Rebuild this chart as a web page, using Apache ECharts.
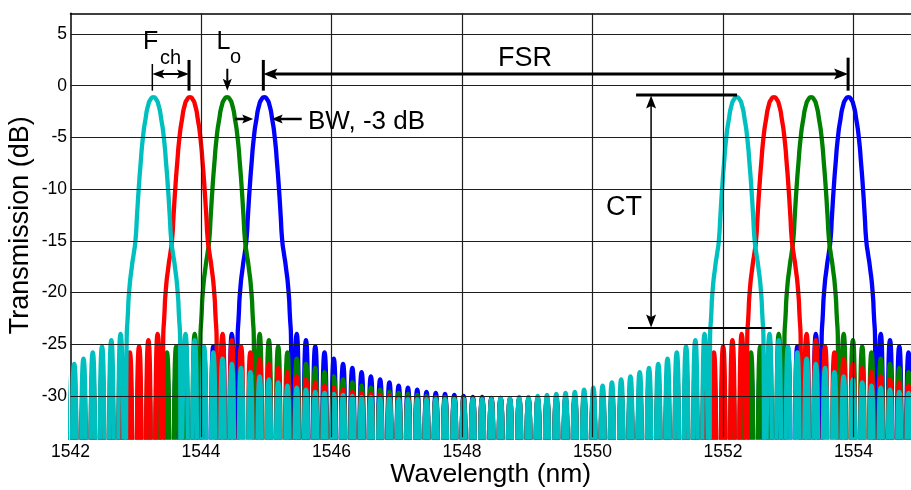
<!DOCTYPE html>
<html>
<head>
<meta charset="utf-8">
<script src="https://cdn.jsdelivr.net/npm/echarts@6.0.0/dist/echarts.min.js"></script>
<style>
html, body { margin: 0; padding: 0; background: #fff; }
#chart { width: 911px; height: 490px; }
</style>
</head>
<body>
<div id="chart"></div>
<script>
// Rejilla de lóbulos laterales (común a los cuatro canales)
const lobeStart = 1541.915;   // nm, primer lóbulo (fuera del eje)
const lobeStep = 0.14206;     // nm entre lóbulos
const troughLevel = -45;      // nulos, por debajo del eje

// Forma del lóbulo principal: desplazamiento (nm) y nivel (dB)
const mainOffset = [-0.41, -0.39, -0.37, -0.33, -0.3, -0.275, -0.25, -0.225, -0.195, -0.16, -0.12, -0.08, -0.04, 0,
                    0.04, 0.08, 0.12, 0.16, 0.195, 0.225, 0.25, 0.275, 0.3, 0.33, 0.37, 0.39, 0.41];
const mainLevel = [-25, -22, -19.8, -17.5, -16.2, -15, -12.5, -10, -7.5, -5, -3.2, -1.9, -1.3, -1.1,
                   -1.3, -1.9, -3.2, -5, -7.5, -10, -12.5, -15, -16.2, -17.5, -19.8, -22, -25];

// Centros de canal (dos órdenes separados un FSR)
const cyanCenters = [1543.27, 1552.21];
const redCenters = [1543.83, 1552.78];
const greenCenters = [1544.40, 1553.35];
const blueCenters = [1544.97, 1553.92];

// Nivel de pico de cada lóbulo lateral (null donde está el lóbulo principal)
const cyanLobes = [-27.3, -26.9, -26.4, -25.8, -25.2, -24.6, -24.0,
  null, null, null, null, null, null,
  -24.0, -24.6, -25.2, -25.8, -26.4, -26.9, -27.3, -27.7, -28.1, -28.4, -28.7, -29.0, -29.2, -29.4,
  -29.6, -29.7, -29.8, -29.9, -30.0, -30.1, -30.1, -30.2, -30.2, -30.3, -30.3, -30.3, -30.3, -30.3,
  -30.3,
  -30.3, -30.3, -30.3, -30.3, -30.3, -30.2, -30.2, -30.1, -30.1, -30.0, -29.9, -29.8, -29.7, -29.6,
  -29.4, -29.2, -29.0, -28.7, -28.4, -28.1, -27.7, -27.3, -26.9, -26.4, -25.8, -25.2, -24.6, -24.0,
  null, null, null, null, null, null,
  -24.0, -24.6, -25.2, -25.8, -26.4, -26.9, -27.3, -27.7, -28.1, -28.4, -28.7, -29.0, -29.2, -29.4,
  -29.6, -29.7, -29.8];
const redLobes = [-28.7, -28.4, -28.1, -27.7, -27.3, -26.9, -26.4, -25.8, -25.2, -24.6, -24.0,
  null, null, null, null, null, null,
  -24.0, -24.6, -25.2, -25.8, -26.4, -26.9, -27.3, -27.7, -28.1, -28.4, -28.7, -29.0, -29.2, -29.4,
  -29.6, -29.7, -29.8, -29.9, -30.0, -30.1, -30.1, -30.2, -30.2, -30.3, -30.3, -30.3, -30.3, -30.3,
  -30.3,
  -30.3, -30.3, -30.3, -30.3, -30.3, -30.2, -30.2, -30.1, -30.1, -30.0, -29.9, -29.8, -29.7, -29.6,
  -29.4, -29.2, -29.0, -28.7, -28.4, -28.1, -27.7, -27.3, -26.9, -26.4, -25.8, -25.2, -24.6, -24.0,
  null, null, null, null, null, null,
  -24.0, -24.6, -25.2, -25.8, -26.4, -26.9, -27.3, -27.7, -28.1, -28.4, -28.7, -29.0, -29.2];
const greenLobes = [-29.6, -29.4, -29.2, -29.0, -28.7, -28.4, -28.1, -27.7, -27.3, -26.9, -26.4, -25.8,
  -25.2, -24.6, -24.0,
  null, null, null, null, null, null,
  -24.0, -24.6, -25.2, -25.8, -26.4, -26.9, -27.3, -27.7, -28.1, -28.4, -28.7, -29.0, -29.2, -29.4,
  -29.6, -29.7, -29.8, -29.9, -30.0, -30.1, -30.1, -30.2, -30.2, -30.3, -30.3, -30.3, -30.3, -30.3,
  -30.3,
  -30.3, -30.3, -30.3, -30.3, -30.3, -30.2, -30.2, -30.1, -30.1, -30.0, -29.9, -29.8, -29.7, -29.6,
  -29.4, -29.2, -29.0, -28.7, -28.4, -28.1, -27.7, -27.3, -26.9, -26.4, -25.8, -25.2, -24.6, -24.0,
  null, null, null, null, null, null,
  -24.0, -24.6, -25.2, -25.8, -26.4, -26.9, -27.3, -27.7, -28.1];
const blueLobes = [-30.0, -29.9, -29.8, -29.7, -29.6, -29.4, -29.2, -29.0, -28.7, -28.4, -28.1, -27.7,
  -27.3, -26.9, -26.4, -25.8, -25.2, -24.6, -24.0,
  null, null, null, null, null, null,
  -24.0, -24.6, -25.2, -25.8, -26.4, -26.9, -27.3, -27.7, -28.1, -28.4, -28.7, -29.0, -29.2, -29.4,
  -29.6, -29.7, -29.8, -29.9, -30.0, -30.1, -30.1, -30.2, -30.2, -30.3, -30.3, -30.3, -30.3, -30.3,
  -30.3,
  -30.3, -30.3, -30.3, -30.3, -30.3, -30.2, -30.2, -30.1, -30.1, -30.0, -29.9, -29.8, -29.7, -29.6,
  -29.4, -29.2, -29.0, -28.7, -28.4, -28.1, -27.7, -27.3, -26.9, -26.4, -25.8, -25.2, -24.6, -24.0,
  null, null, null, null, null, null,
  -24.0, -24.6, -25.2, -25.8, -26.4];

// Marcas de los ejes
const xTicks = [1542, 1544, 1546, 1548, 1550, 1552, 1554];
const yTicks = [5, 0, -5, -10, -15, -20, -25, -30];

const FONT = '"Liberation Sans", Arial, sans-serif';

// Arma la curva de un canal: lóbulos laterales + lóbulos principales
function buildCurve(lobes, centers) {
    const pts = [];
    lobes.forEach((v, j) => {
        if (v === null) return;
        const x = lobeStart + j * lobeStep;
        pts.push([x - lobeStep / 2, troughLevel], [x, v], [x + lobeStep / 2, troughLevel]);
    });
    centers.forEach(c => {
        mainOffset.forEach((o, i) => pts.push([c + o, mainLevel[i]]));
    });
    pts.sort((a, b) => a[0] - b[0]);
    // quitar nulos repetidos
    return pts.filter((p, i) => i === 0 || p[0] - pts[i - 1][0] > 1e-6);
}

function channel(name, color, lobes, centers) {
    return {
        name: name,
        type: 'line',
        data: buildCurve(lobes, centers),
        smooth: 0.7,
        symbol: 'none',
        z: 2,
        lineStyle: { color: color, width: 4.3 },
        emphasis: { disabled: true }
    };
}

const chart = echarts.init(document.getElementById('chart'));

const option = {
    animation: false,
    backgroundColor: '#fff',
    grid: { left: 70.5, right: 0, top: 13.3, bottom: 52.7, outerBoundsMode: 'none', containLabel: false },
    xAxis: [
        {
            type: 'value', min: 1542, max: 1554.88, interval: 2,
            axisLine: { show: false, onZero: false },
            axisTick: { show: false },
            splitLine: { show: false },
            axisLabel: {
                color: '#000', fontSize: 17.5, fontFamily: FONT, margin: 6,
                formatter: v => (xTicks.indexOf(Math.round(v * 1000) / 1000) >= 0 ? String(v) : '')
            },
            name: 'Wavelength (nm)', nameLocation: 'middle', nameGap: 24, nameMoveOverlap: false,
            nameTextStyle: { color: '#000', fontSize: 26.5, fontFamily: FONT }
        },
        {
            type: 'value', min: 1542, max: 1554.88, position: 'top',
            axisLine: { show: true, onZero: false, lineStyle: { color: '#000', width: 1.5 } },
            axisTick: { show: false }, axisLabel: { show: false }, splitLine: { show: false }
        }
    ],
    yAxis: {
        type: 'value', min: -34, max: 7, interval: 1,
        axisLine: { show: true, onZero: false, lineStyle: { color: '#000', width: 1.5 } },
        axisTick: { show: false },
        splitLine: { show: false },
        axisLabel: {
            color: '#000', fontSize: 17.5, fontFamily: FONT, margin: 3.5,
            formatter: v => (yTicks.indexOf(v) >= 0 ? String(v) : '')
        },
        name: 'Transmission (dB)', nameLocation: 'middle', nameGap: 36, nameRotate: 90, nameMoveOverlap: false,
        nameTextStyle: { color: '#000', fontSize: 27, fontFamily: FONT }
    },
    series: [
        {
            // rejilla
            type: 'line', data: [], z: 1, silent: true,
            markLine: {
                silent: true, symbol: ['none', 'none'], animation: false,
                label: { show: false },
                lineStyle: { color: '#1e1e1e', width: 1.2, type: 'solid' },
                data: xTicks.slice(1).map(v => ({ xAxis: v })).concat(yTicks.map(v => ({ yAxis: v })))
            }
        },
        channel('ch4', '#0000FF', blueLobes, blueCenters),
        channel('ch3', '#008000', greenLobes, greenCenters),
        channel('ch2', '#FF0000', redLobes, redCenters),
        channel('ch1', '#00BFBF', cyanLobes, cyanCenters)
    ]
};

chart.setOption(option);

// Anotaciones (coordenadas en nm / dB)
const toPx = (x, y) => chart.convertToPixel({ seriesIndex: 1 }, [x, y]);

function seg(a, b, w) {
    const p = toPx(a[0], a[1]), q = toPx(b[0], b[1]);
    return { type: 'line', z: 100, silent: true,
        shape: { x1: p[0], y1: p[1], x2: q[0], y2: q[1] },
        style: { stroke: '#000', lineWidth: w } };
}

function head(tip, from, len, half) {
    const t = toPx(tip[0], tip[1]), f = toPx(from[0], from[1]);
    const dx = t[0] - f[0], dy = t[1] - f[1];
    const d = Math.hypot(dx, dy), ux = dx / d, uy = dy / d;
    const bx = t[0] - ux * len, by = t[1] - uy * len;
    return { type: 'polygon', z: 100, silent: true,
        shape: { points: [t, [bx - uy * half, by + ux * half], [t[0] - ux * len * 0.8, t[1] - uy * len * 0.8], [bx + uy * half, by - ux * half]] },
        style: { fill: '#000' } };
}

function label(text, x, y, size) {
    const p = toPx(x, y);
    return { type: 'text', z: 100, silent: true, x: p[0], y: p[1],
        style: { text: text, fill: '#000', font: size + 'px ' + FONT,
            align: 'left', verticalAlign: 'middle', textAlign: 'left', textVerticalAlign: 'middle' } };
}

const g = [];
// F_ch
g.push(seg([1543.254, 2.10], [1543.254, -0.48], 1.5));
g.push(seg([1543.816, 2.49], [1543.816, -0.48], 3));
g.push(seg([1543.30, 1.13], [1543.77, 1.13], 2));
g.push(head([1543.254, 1.13], [1543.6, 1.13], 12, 4.5));
g.push(head([1543.816, 1.13], [1543.4, 1.13], 12, 4.5));
g.push(label('F', 1543.111, 4.19, 25));
g.push(label('ch', 1543.372, 2.63, 20));
// L_o
g.push(seg([1544.403, 1.64], [1544.403, 0.3], 2));
g.push(head([1544.403, -0.5], [1544.403, 1.64], 12, 4.5));
g.push(label('L', 1544.237, 4.19, 25));
g.push(label('o', 1544.444, 2.73, 20));
// BW
g.push(seg([1544.52, -3.22], [1544.70, -3.22], 2.5));
g.push(head([1544.80, -3.22], [1544.52, -3.22], 11, 4.5));
g.push(seg([1545.543, -3.22], [1545.18, -3.22], 2.5));
g.push(head([1545.083, -3.22], [1545.543, -3.22], 11, 4.5));
g.push(label('BW, -3 dB', 1545.64, -3.51, 26));
// FSR
g.push(seg([1544.955, 2.49], [1544.955, -0.48], 3));
g.push(seg([1553.916, 2.71], [1553.916, -0.48], 3));
g.push(seg([1545.05, 1.13], [1553.82, 1.13], 3));
g.push(head([1544.955, 1.13], [1545.5, 1.13], 14, 5.5));
g.push(head([1553.916, 1.13], [1553.4, 1.13], 14, 5.5));
g.push(label('FSR', 1548.552, 2.58, 27));
// CT
g.push(seg([1550.667, -0.90], [1552.215, -0.90], 3));
g.push(seg([1550.897, -1.8], [1550.897, -22.5], 1.5));
g.push(head([1550.897, -0.95], [1550.897, -10], 13, 5));
g.push(head([1550.897, -23.38], [1550.897, -10], 13, 5));
g.push(seg([1550.544, -23.43], [1552.746, -23.43], 2));
g.push(label('CT', 1550.207, -11.80, 27));

chart.setOption({ graphic: { elements: g } });
</script>
</body>
</html>
